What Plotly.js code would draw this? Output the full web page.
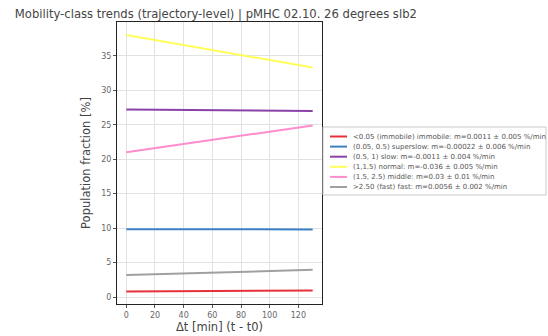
<!DOCTYPE html>
<html><head><meta charset="utf-8">
<script src="https://cdn.plot.ly/plotly-3.0.1.min.js"></script>
<style>body{margin:0;background:#fff}#c{width:548px;height:336px}</style>
</head><body><div id="c"></div>
<script>
const tStart = 0, tEnd = 130;
const names = [
  "<0.05 (immobile) immobile: m=0.0011 ± 0.005 %/min",
  "(0.05, 0.5) superslow: m=-0.00022 ± 0.006 %/min",
  "(0.5, 1) slow: m=-0.0011 ± 0.004 %/min",
  "(1,1.5) normal: m=-0.036 ± 0.005 %/min",
  "(1.5, 2.5) middle: m=0.03 ± 0.01 %/min",
  ">2.50 (fast) fast: m=0.0056 ± 0.002 %/min"
];
const startVals = [0.8, 9.85, 27.2, 38.0, 21.0, 3.2];
const endVals   = [0.97, 9.82, 27.0, 33.3, 24.9, 3.95];
const colors = ["#e8303a", "#3c80c4", "#8b42a8", "#ffff5a", "#ff8ccc", "#a0a0a0"];

const traces = names.map((n, i) => ({
  x: [tStart, tEnd], y: [startVals[i], endVals[i]],
  mode: "lines", name: n, line: {color: colors[i], width: 2}
}));

// plot area in pixels (for legend placement in paper coords)
const W = 548, H = 336;
const M = {l: 117, r: 226, t: 22, b: 32};
const pw = W - M.l - M.r, ph = H - M.t - M.b;
const PX = X => (X - M.l) / pw;
const PY = Y => (H - M.b - Y) / ph;

const shapes = [{
  type: "rect", xref: "paper", yref: "paper",
  x0: PX(323), x1: PX(546), y0: PY(195), y1: PY(127),
  line: {color: "#c8c8c8", width: 1}, fillcolor: "#fff"
}];
const annotations = [];
names.forEach((n, i) => {
  const yy = 136.5 + 10.1 * i;
  shapes.push({type: "line", xref: "paper", yref: "paper",
    x0: PX(330), x1: PX(347), y0: PY(yy), y1: PY(yy),
    line: {color: colors[i], width: 2}});
  annotations.push({xref: "paper", yref: "paper", x: PX(351), y: PY(yy),
    xanchor: "left", yanchor: "middle", showarrow: false, text: n,
    font: {size: 7, color: "#555", family: "DejaVu Sans"}});
});

const axisCommon = {
  showline: true, mirror: true, linecolor: "#222", linewidth: 1,
  showgrid: true, gridcolor: "#e2e2e2", gridwidth: 1,
  ticks: "outside", ticklen: 3, tickcolor: "#555",
  tickfont: {size: 8, color: "#666", family: "DejaVu Sans"},
  zeroline: false
};

Plotly.newPlot("c", traces, {
  width: W, height: H,
  margin: M,
  paper_bgcolor: "#fff", plot_bgcolor: "#fff",
  font: {family: "DejaVu Sans", color: "#444"},
  title: {text: "Mobility-class trends (trajectory-level) | pMHC 02.10. 26 degrees slb2",
          x: 0.027, xanchor: "left", y: 0.958, yanchor: "middle",
          font: {size: 11.6, color: "#444", family: "DejaVu Sans"}},
  xaxis: Object.assign({}, axisCommon, {range: [-6.5, 136.5], dtick: 20,
          title: {text: "Δt [min] (t - t0)", font: {size: 11.5, color: "#444"}, standoff: 3}}),
  yaxis: Object.assign({}, axisCommon, {range: [-1.0, 39.9], dtick: 5,
          title: {text: "Population fraction [%]", font: {size: 11.5, color: "#444"}, standoff: 8}}),
  showlegend: false,
  shapes: shapes,
  annotations: annotations
}, {displayModeBar: false, staticPlot: true});
</script></body></html>
